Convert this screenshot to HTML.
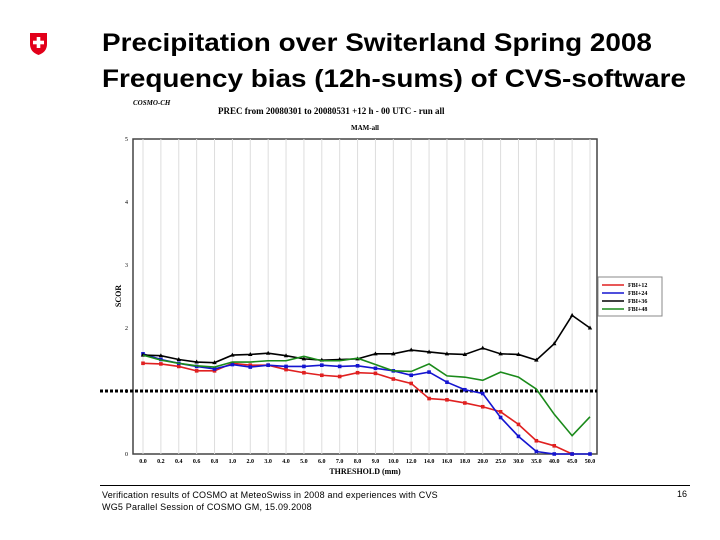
<!DOCTYPE html>
<html><head><meta charset="utf-8"><style>
body{margin:0;width:720px;height:540px;background:#fff;overflow:hidden;font-family:"Liberation Sans",sans-serif;position:relative}
.t{position:absolute;left:102px;font-weight:bold;font-size:25px;color:#000;white-space:nowrap;transform-origin:0 0;transform:scaleX(1.115)}
</style></head><body>
<svg style="position:absolute;left:29px;top:32px" width="19" height="24" viewBox="0 0 19 24">
<path d="M1 1 H18 V12 Q18 20 9.5 23 Q1 20 1 12 Z" fill="#e2001a"/>
<rect x="7.7" y="5" width="3.6" height="11" fill="#fff"/><rect x="4" y="8.7" width="11" height="3.6" fill="#fff"/>
</svg>
<div class="t" style="top:29px">Precipitation over Switerland Spring 2008</div>
<div class="t" style="top:65px">Frequency bias (12h-sums) of CVS-software</div>
<svg id="chart" style="position:absolute;left:0;top:0" width="720" height="540"></svg>
<div style="position:absolute;left:100px;top:485px;width:590px;height:1px;background:#000"></div>
<div style="position:absolute;left:102px;top:489px;font-size:9px;letter-spacing:0.2px;line-height:12px;color:#000">Verification results of COSMO at MeteoSwiss in 2008 and experiences with CVS<br>WG5 Parallel Session of COSMO GM, 15.09.2008</div>
<div style="position:absolute;left:677px;top:489px;font-size:9px">16</div>
<script>
const categories=["0.0","0.2","0.4","0.6","0.8","1.0","2.0","3.0","4.0","5.0","6.0","7.0","8.0","9.0","10.0","12.0","14.0","16.0","18.0","20.0","25.0","30.0","35.0","40.0","45.0","50.0"];
const fbi12=[1.44,1.43,1.39,1.32,1.32,1.44,1.41,1.41,1.34,1.29,1.25,1.23,1.29,1.28,1.19,1.12,0.88,0.86,0.81,0.75,0.67,0.47,0.21,0.13,0.0,null];
const fbi24=[1.59,1.50,1.44,1.39,1.35,1.42,1.38,1.41,1.39,1.39,1.41,1.39,1.40,1.36,1.32,1.25,1.30,1.14,1.02,0.96,0.58,0.28,0.04,0.0,0.0,0.0];
const fbi36=[1.57,1.56,1.50,1.46,1.45,1.57,1.58,1.60,1.56,1.51,1.49,1.50,1.51,1.59,1.59,1.65,1.62,1.59,1.58,1.68,1.59,1.58,1.49,1.75,2.2,2.0];
const fbi48=[1.57,1.49,1.44,1.40,1.38,1.46,1.46,1.48,1.48,1.55,1.48,1.48,1.52,1.42,1.32,1.31,1.43,1.24,1.22,1.17,1.30,1.22,1.03,0.63,0.29,0.59];
const yTicks=[0,1,2,3,4,5];
const series=[{name:"FBI+12",v:fbi12,c:"#e02020",m:"sq"},{name:"FBI+24",v:fbi24,c:"#1515d0",m:"sq"},{name:"FBI+36",v:fbi36,c:"#000",m:"tri"},{name:"FBI+48",v:fbi48,c:"#1a8a1a",m:"none"}];
const NS="http://www.w3.org/2000/svg",svg=document.getElementById("chart");
const X0=133,X1=597,Y0=454,Y5=139;
const xs=i=>143+i*(590-143)/(categories.length-1);
const ys=v=>Y0-(v/5)*(Y0-Y5);
function mk(t,a,p){const e=document.createElementNS(NS,t);for(const k in a)e.setAttribute(k,a[k]);(p||svg).appendChild(e);return e;}
let e;
e=mk("rect",{x:X0,y:Y5,width:X1-X0,height:Y0-Y5,fill:"#fff",stroke:"#444","stroke-width":1.5});

categories.forEach((c,i)=>{
 e=mk("line",{x1:xs(i),x2:xs(i),y1:Y5,y2:Y0,stroke:"#ddd","stroke-width":1});
 
 e=mk("text",{x:xs(i),y:Y0+9,"font-size":6,"font-weight":"bold","text-anchor":"middle","font-family":"Liberation Serif,serif"});e.textContent=c;
 
});
yTicks.forEach(t=>{e=mk("text",{x:X0-5,y:ys(t)+2,"font-size":6,"text-anchor":"end","font-family":"Liberation Serif,serif"});e.textContent=t;
 });
e=mk("line",{x1:100,x2:597,y1:ys(1),y2:ys(1),stroke:"#000","stroke-width":3,"stroke-dasharray":"3,2"});

series.forEach(s=>{
 let d="";s.v.forEach((v,i)=>{if(v!==null)d+=(d?"L":"M")+xs(i)+","+ys(v);});
 e=mk("path",{d:d,fill:"none",stroke:s.c,"stroke-width":1.6});
 
 s.v.forEach((v,i)=>{if(v===null)return;
  if(s.m==="sq"){e=mk("rect",{x:xs(i)-1.8,y:ys(v)-1.8,width:3.6,height:3.6,fill:s.c});}
  else if(s.m==="tri"){const x=xs(i),y=ys(v);e=mk("path",{d:`M${x},${y-2.5}L${x+2.2},${y+1.5}L${x-2.2},${y+1.5}Z`,fill:s.c});}
  else return;
  });
});
e=mk("rect",{x:598,y:277,width:64,height:39,fill:"#fff",stroke:"#888"});

series.forEach((s,i)=>{const y=285+i*8;
 e=mk("line",{x1:602,x2:624,y1:y,y2:y,stroke:s.c,"stroke-width":1.5});
 
 e=mk("text",{x:628,y:y+2,"font-size":6,"font-weight":"bold","font-family":"Liberation Serif,serif"});e.textContent=s.name;
 });
const txt=(x,y,s,str,nm,extra)=>{e=mk("text",Object.assign({x:x,y:y,"font-size":s,"font-family":"Liberation Serif,serif","font-weight":"bold"},extra||{}));e.textContent=str;
 };
txt(133,105,7,"COSMO-CH","model-label",{"font-style":"italic"});
txt(218,114,9,"PREC from 20080301 to 20080531 +12 h - 00 UTC - run all","chart-title");
txt(365,130,7,"MAM-all","chart-subtitle",{"text-anchor":"middle"});
txt(365,474,8,"THRESHOLD (mm)","x-axis-title",{"text-anchor":"middle"});
txt(121,296,8,"SCOR","y-axis-title",{"text-anchor":"middle",transform:"rotate(-90 121 296)"});
</script>
</body></html>
